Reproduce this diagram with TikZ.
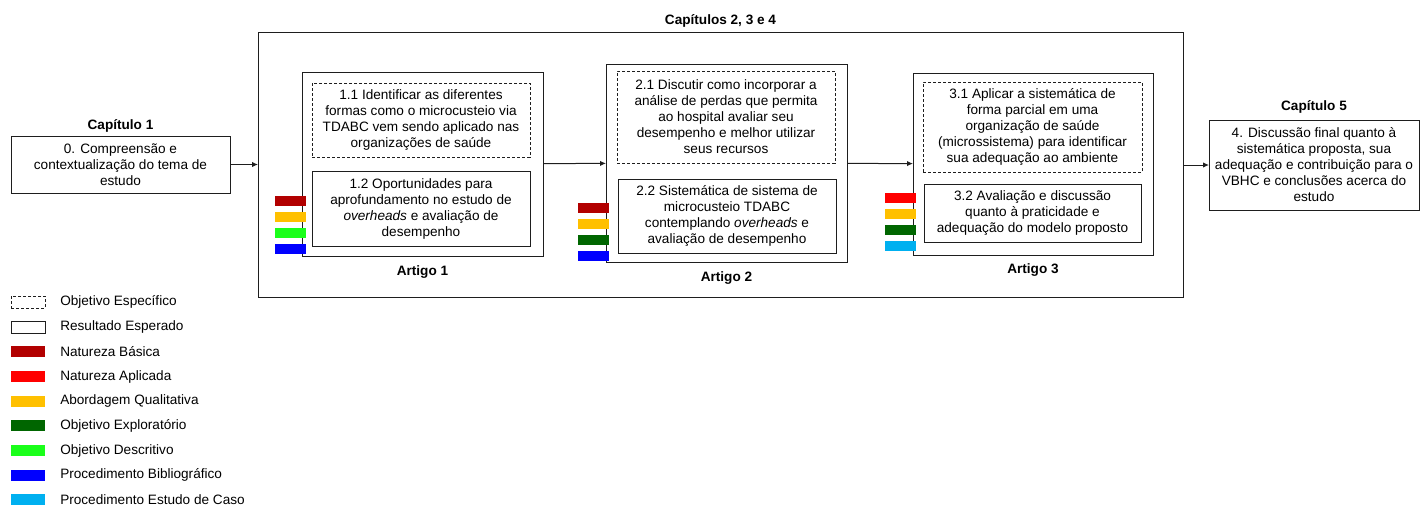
\documentclass[tikz,border=0pt]{standalone}
\usepackage{fontspec}
\setmainfont{Liberation Sans}
\usetikzlibrary{arrows.meta,positioning}
\definecolor{natbasica}{RGB}{178,0,0}
\definecolor{nataplicada}{RGB}{255,0,0}
\definecolor{abqualitativa}{RGB}{255,192,0}
\definecolor{objexploratorio}{RGB}{0,102,0}
\definecolor{objdescritivo}{RGB}{26,255,26}
\definecolor{procbiblio}{RGB}{0,0,255}
\definecolor{procestudo}{RGB}{0,176,240}
\definecolor{linegray}{RGB}{30,30,30}

\begin{document}
\begin{tikzpicture}[x=0.75pt,y=-0.75pt,
      every node/.style={font=\fontsize{10.2}{12}\selectfont},
      box/.style={draw=linegray,line width=0.75pt,align=center,inner sep=0pt,outer sep=0pt},
      objbox/.style={box,dash pattern=on 2.25pt off 1.5pt},
      artbox/.style={box,minimum width=180.75pt},
      title/.style={font=\fontsize{10.2}{12}\selectfont\bfseries},
      bar/.style={fill=#1,minimum width=23.25pt,minimum height=8pt,inner sep=0pt,outer sep=0pt},
      legbar/.style={fill=#1,minimum width=25.5pt,minimum height=8.25pt,inner sep=0pt,outer sep=0pt},
      legbox/.style={draw=linegray,line width=0.75pt,minimum width=25.5pt,minimum height=9pt,inner sep=0pt,outer sep=0pt},
      legtext/.style={anchor=west,inner sep=0pt},
      arrow/.style={-{Latex[length=4.5pt,width=4pt]},line width=0.75pt,draw=linegray}
    ]
      \useasboundingbox (0,0) rectangle (1420,507);
      % capitulo 1
      \node[box,minimum width=164.25pt,minimum height=42.75pt] (cap1) at (120.5,164.5)
        {0. Compreensão e\\contextualização do tema de\\estudo};
      \node[title,above=-1pt of cap1] (cap1t) {Capítulo 1};
      % capitulos 2, 3 e 4
      \node[box,minimum width=693.75pt,minimum height=198.75pt] (caps) at (720.5,164.5) {};
      \node[title,above=0pt of caps] (capst) {Capítulos 2, 3 e 4};
      % artigo 1
      \node[artbox,minimum height=138pt] (art1) at (422.5,164) {};
      \node[objbox,minimum width=163.5pt,minimum height=55.5pt] (obj11) at (421,120)
        {1.1 Identificar as diferentes\\formas como o microcusteio via\\TDABC vem sendo aplicado nas\\organizações de saúde};
      \node[box,minimum width=163.5pt,minimum height=56.25pt] (res12) at (421,208.5)
        {1.2 Oportunidades para\\aprofundamento no estudo de\\\textit{overheads} e avaliação de\\desempenho};
      \node[title,below=3.5pt of art1] (art1t) {Artigo 1};
      \node[bar=natbasica] (b11) at (290.5,201) {};
      \node[bar=abqualitativa,below=4pt of b11] (b12) {};
      \node[bar=objdescritivo,below=4pt of b12] (b13) {};
      \node[bar=procbiblio,below=4pt of b13] (b14) {};
      % artigo 2
      \node[artbox,minimum height=148.5pt] (art2) at (726.5,163) {};
      \node[objbox,minimum width=163.5pt,minimum height=69pt] (obj21) at (726,117)
        {2.1 Discutir como incorporar a\\análise de perdas que permita\\ao hospital avaliar seu\\desempenho e melhor utilizar\\seus recursos};
      \node[box,minimum width=163.5pt,minimum height=55.5pt] (res22) at (727,216)
        {2.2 Sistemática de sistema de\\microcusteio TDABC\\contemplando \textit{overheads} e\\avaliação de desempenho};
      \node[title,below=3.5pt of art2] (art2t) {Artigo 2};
      \node[bar=natbasica] (b21) at (593,208) {};
      \node[bar=abqualitativa,below=4pt of b21] (b22) {};
      \node[bar=objexploratorio,below=4pt of b22] (b23) {};
      \node[bar=procbiblio,below=4pt of b23] (b24) {};
      % artigo 3
      \node[artbox,minimum width=180pt,minimum height=136.5pt] (art3) at (1033,164) {};
      \node[objbox,minimum width=164.25pt,minimum height=67.5pt] (obj31) at (1032.5,127)
        {3.1 Aplicar a sistemática de\\forma parcial em uma\\organização de saúde\\(microssistema) para identificar\\sua adequação ao ambiente};
      \node[box,minimum width=162.75pt,minimum height=43.5pt] (res32) at (1032.5,213)
        {3.2 Avaliação e discussão\\quanto à praticidade e\\adequação do modelo proposto};
      \node[title,below=3pt of art3] (art3t) {Artigo 3};
      \node[bar=nataplicada] (b31) at (900,198) {};
      \node[bar=abqualitativa,below=4pt of b31] (b32) {};
      \node[bar=objexploratorio,below=4pt of b32] (b33) {};
      \node[bar=procestudo,below=4pt of b33] (b34) {};
      % capitulo 5
      \node[box,minimum width=157.5pt,minimum height=67.5pt] (cap5) at (1314,165)
        {4. Discussão final quanto à\\sistemática proposta, sua\\adequação e contribuição para o\\VBHC e conclusões acerca do\\estudo};
      \node[title,above=1.25pt of cap5] (cap5t) {Capítulo 5};
      % conexoes
      \draw[arrow] (cap1) -- (caps.west |- cap1);
      \draw[arrow] (art1) -- (art2);
      \draw[arrow] (art2) -- (art3);
      \draw[arrow] (caps.east |- cap5) -- (cap5.west);
      % legenda
      \node[legbox,dash pattern=on 2.25pt off 1.5pt] (leg1) at (28,302) {};
      \node[legbox,below=9.75pt of leg1] (leg2) {};
      \node[legbar=natbasica,below=10pt of leg2] (leg3) {};
      \node[legbar=nataplicada,below=10.25pt of leg3] (leg4) {};
      \node[legbar=abqualitativa,below=10.25pt of leg4] (leg5) {};
      \node[legbar=objexploratorio,below=10.25pt of leg5] (leg6) {};
      \node[legbar=objdescritivo,below=10.25pt of leg6] (leg7) {};
      \node[legbar=procbiblio,below=10.25pt of leg7] (leg8) {};
      \node[legbar=procestudo,below=10.25pt of leg8] (leg9) {};
      \node[legtext,right=11.25pt of leg1] (legt1) {Objetivo Específico};
      \node[legtext,right=11.25pt of leg2] (legt2) {Resultado Esperado};
      \node[legtext,right=11.25pt of leg3] (legt3) {Natureza Básica};
      \node[legtext,right=11.25pt of leg4] (legt4) {Natureza Aplicada};
      \node[legtext,right=11.25pt of leg5] (legt5) {Abordagem Qualitativa};
      \node[legtext,right=11.25pt of leg6] (legt6) {Objetivo Exploratório};
      \node[legtext,right=11.25pt of leg7] (legt7) {Objetivo Descritivo};
      \node[legtext,right=11.25pt of leg8] (legt8) {Procedimento Bibliográfico};
      \node[legtext,right=11.25pt of leg9] (legt9) {Procedimento Estudo de Caso};
    \end{tikzpicture}
\end{document}
